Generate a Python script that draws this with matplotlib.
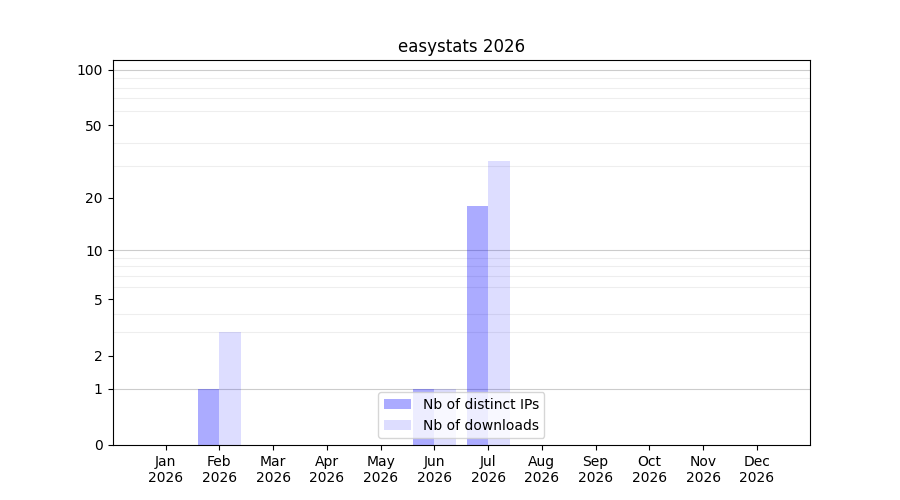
import numpy as np
import matplotlib
matplotlib.use("Agg")
import matplotlib.pyplot as plt

months = ["Jan", "Feb", "Mar", "Apr", "May", "Jun", "Jul", "Aug", "Sep", "Oct", "Nov", "Dec"]
year = "2026"
nb_ips = [0, 1, 0, 0, 0, 1, 18, 0, 0, 0, 0, 0]
nb_downloads = [0, 3, 0, 0, 0, 1, 32, 0, 0, 0, 0, 0]
yticks = [0, 1, 2, 5, 10, 20, 50, 100]

def fwd(y):
    return np.log10(1 + np.clip(y, 0, None))

def inv(y):
    return 10 ** y - 1

fig, ax = plt.subplots(figsize=(9, 5), dpi=100)
x = np.arange(len(months))

ax.set_yscale("function", functions=(fwd, inv))

# grille : fine sur 2..9, 20..90, plus marquee sur 1, 10, 100
minor = [v * d for d in (1, 10) for v in range(2, 10)]
ax.set_yticks(minor, minor=True)
ax.tick_params(axis="y", which="minor", length=0)
ax.set_axisbelow(True)
ax.grid(True, which="minor", axis="y", color="#eeeeee", linewidth=0.8)
for v in (1, 10, 100):
    ax.axhline(v, color="#cccccc", linewidth=0.8, zorder=0.5)

ax.bar(x - 0.2, nb_ips, width=0.4, color="blue", alpha=0.33, label="Nb of distinct IPs")
ax.bar(x + 0.2, nb_downloads, width=0.4, color="blue", alpha=0.135, label="Nb of downloads")

ax.set_yticks(yticks)
ax.set_yticklabels([str(v) for v in yticks])
ax.set_ylim(0, 113)
ax.set_xticks(x)
ax.set_xticklabels([m + "\n" + year for m in months])
ax.set_xlim(-0.99, 11.99)

ax.set_title("easystats 2026")
ax.legend(loc="lower center")
fig.savefig("out.png")
